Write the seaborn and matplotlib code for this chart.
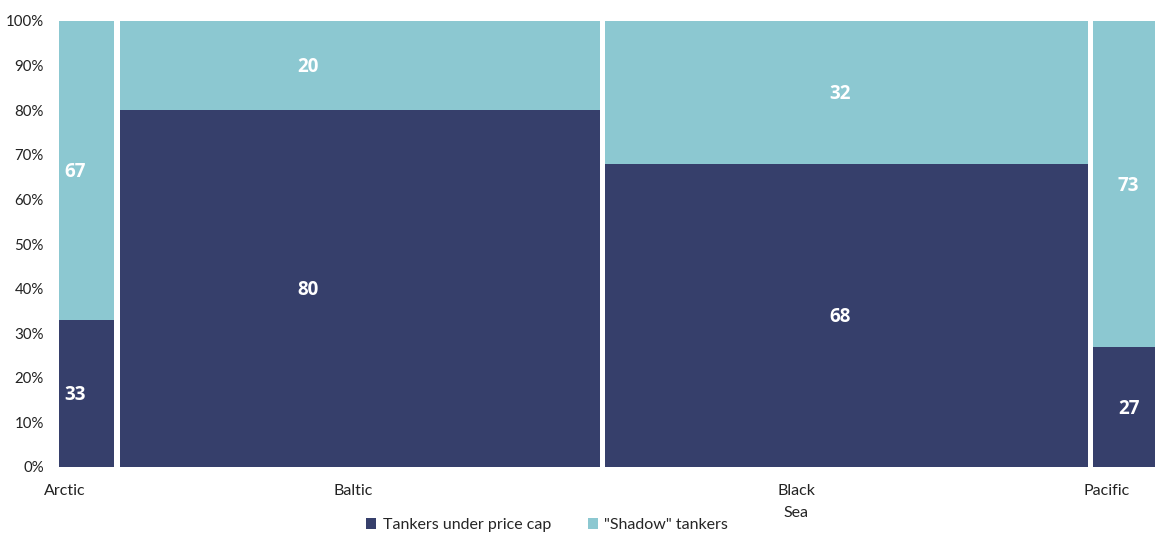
import numpy as np
import pandas as pd
import matplotlib
matplotlib.use("Agg")
import matplotlib.pyplot as plt
from matplotlib.patches import Patch
import seaborn as sns

# Seaborne crude exports by basin: share of volume (bar width) and
# the split between tankers under the price cap and "shadow" tankers
regions = ["Arctic", "Baltic", "Black\nSea", "Pacific"]
volume_share = [5.1, 44.5, 44.7, 5.7]
price_cap = [33, 80, 68, 27]
shadow = [67, 20, 32, 73]
series_names = ["Tankers under price cap", "\"Shadow\" tankers"]
y_ticks = [0, 10, 20, 30, 40, 50, 60, 70, 80, 90, 100]

# Layout
GAP = 0.51
tick_label_x = [0.56, 27.24, 68.27, 97.08]
value_label_x = [1.53, 23.11, 72.40, 99.08]
DARK = "#363F6B"
LIGHT = "#8CC8D1"

sns.set_theme(style="white")
plt.rcParams["font.family"] = ["Lato", "DejaVu Sans"]

# Bin edges: one bin per region separated by narrow empty gap bins
edges = [0.0]
centers = []
for i, w in enumerate(volume_share):
    start = edges[-1]
    edges.append(start + w)
    centers.append(start + w / 2)
    if i < len(volume_share) - 1:
        edges.append(edges[-1] + GAP)
total = edges[-1]

df = pd.DataFrame({
    "x": centers * 2,
    "pct": price_cap + shadow,
    "series": [series_names[0]] * len(regions) + [series_names[1]] * len(regions),
})

fig = plt.figure(figsize=(11.55, 5.33), dpi=100)
ax = fig.add_axes([59 / 1155, 66 / 533, 1096 / 1155, 446 / 533])

sns.histplot(
    data=df, x="x", weights="pct", hue="series",
    hue_order=[series_names[1], series_names[0]],
    bins=edges, multiple="stack", stat="count",
    palette={series_names[0]: DARK, series_names[1]: LIGHT},
    alpha=1, linewidth=0, legend=False, ax=ax,
)

# Value labels
label_font = dict(ha="center", va="center", color="white",
                  fontsize=13.5, fontweight="bold", family=["Open Sans", "DejaVu Sans"])
for xi, low, high in zip(value_label_x, price_cap, shadow):
    ax.text(xi, low / 2 - 0.4, f"{low}", **label_font)
    ax.text(xi, low + high / 2 - 0.4, f"{high}", **label_font)

ax.set_xlim(0, total)
ax.set_ylim(0, 100)
ax.set_yticks(y_ticks)
ax.set_yticklabels([f"{v}%" for v in y_ticks], fontsize=10.8, color="#222222")
ax.set_xticks(tick_label_x)
ax.set_xticklabels(regions, fontsize=11.5, color="#222222", linespacing=1.7)
ax.tick_params(axis="y", length=0, pad=11)
ax.tick_params(axis="x", length=0, pad=12.5)
ax.set_xlabel("")
ax.set_ylabel("")
for s in ax.spines.values():
    s.set_visible(False)

handles = [Patch(facecolor=DARK, edgecolor="none"),
           Patch(facecolor=LIGHT, edgecolor="none")]
fig.legend(handles, series_names, loc="center",
           bbox_to_anchor=(547 / 1155, 1 - 525 / 533), ncol=2, frameon=False,
           fontsize=11.5, handlelength=0.65, handleheight=0.65,
           handletextpad=0.4, columnspacing=2.3)

fig.savefig("out.png", dpi=100)
